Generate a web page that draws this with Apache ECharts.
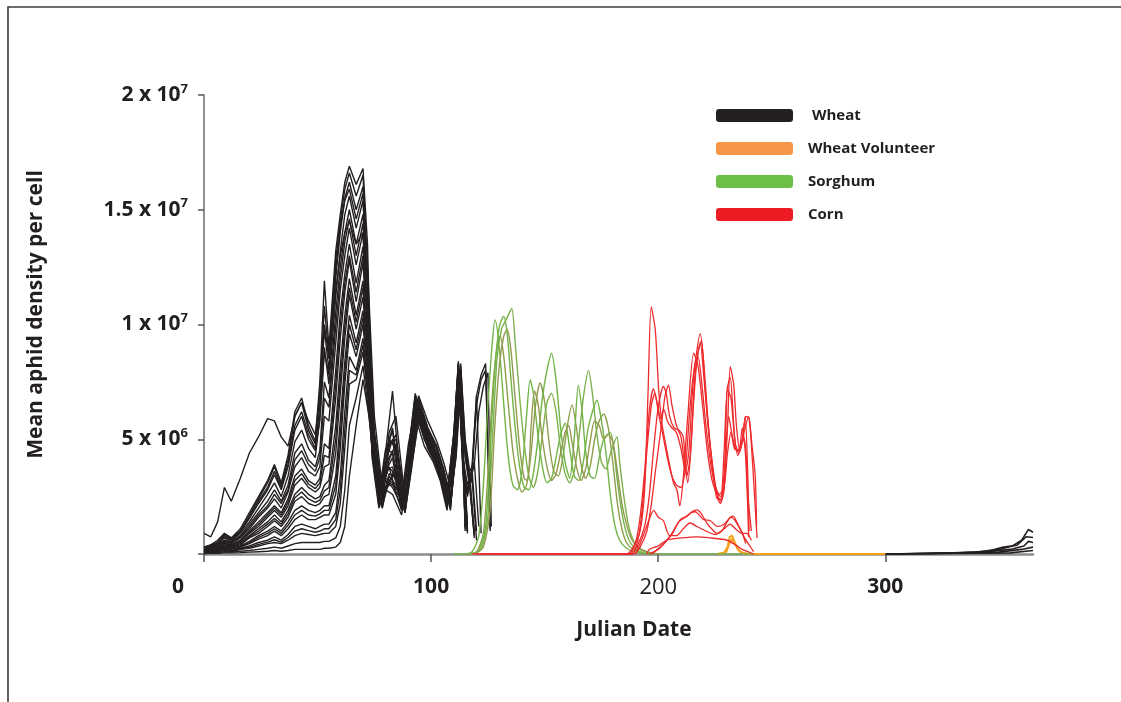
<!DOCTYPE html>
<html>
<head>
<meta charset="utf-8">
<script src="https://cdn.jsdelivr.net/npm/echarts@6/dist/echarts.min.js"></script>
<style>html,body{margin:0;padding:0;background:#fff}#c{width:1121px;height:702px}</style>
</head>
<body>
<div id="c"></div>
<script>
// ---- tick labels ----
const xTickValues = [0, 100, 200, 300];
const xTickLabels = ['0', '100', '200', '300'];
const yTickBase = ['', '5 x 10', '1 x 10', '1.5 x 10', '2 x 10'];
const yTickExp = ['', '6', '7', '7', '7'];

// ---- Wheat (values in millions of aphids per cell), two sampling grids of Julian days ----
const wheatDaysA = [0,3,6,9,12,16,20,24,28,31,34,37,40,43,46,49,51,53,55,58,60,62,64,67,70,72,74,77,80,83,87,90,93,97,101,104,107,110,112,114,116,118,120,122,124,126];
const wheatDaysB = [0,3,6,9,12,16,20,24,28,31,34,37,40,43,46,49,51,53,55,58,60,62,64,67,70,72,75,78.5,81.5,84.5,88.5,91.5,94.5,98.5,102.5,105.5,108.5,111,113,115,117,119,121,123,125,126.5];

const wheat00 = [0.9,0.75,1.4,2.9,2.3,3.3,4.4,5.1,5.9,5.8,5.1,4.7,6.0,6.6,5.8,5.2,
  7.0,10.0,8.5,11.5,13.0,14.0,14.5,13.5,14.0,10.0,
  5.0,2.2,4.5,7.1,2.5,4.0,6.8,5.5,4.6,3.8,2.4,
  5.2,8.3,3.5,1.0,null,null,null,null,null];
const wheat01 = [0.3,0.4,0.6,0.9,0.7,1.1,1.8,2.5,3.2,3.9,3.1,4.3,6.2,6.8,5.6,4.9,
  7.5,11.9,9.0,13.2,14.8,16.2,16.9,16.1,16.8,13.5,
  5.5,2.4,3.3,3.1,1.9,4.4,7.0,5.6,4.8,3.9,2.6,
  5.2,8.4,4.0,2.5,3.8,6.9,7.8,8.3,1.0];
const wheat02 = [0.3,0.4,0.5,0.85,0.7,1.0,1.7,2.4,3.1,3.8,3.0,4.1,6.0,6.6,5.4,4.8,
  7.0,10.8,8.6,12.8,14.5,15.9,16.6,15.6,16.5,12.5,
  6.0,2.9,3.8,2.7,2.2,4.8,6.2,5.0,4.0,3.0,2.4,
  5.6,8.0,1.1,null,null,null,null,null,null];
const wheat03 = [0.25,0.35,0.5,0.8,0.65,1.0,1.6,2.3,2.9,3.6,2.9,3.9,5.6,6.2,5.2,4.6,
  6.5,9.8,8.0,12.0,14.0,15.5,16.2,15.0,16.0,12.0,
  4.2,2.0,2.8,2.6,1.7,3.6,6.0,4.7,4.0,3.2,1.9,
  4.6,7.8,4.2,0.9,null,null,null,null,null];
const wheat04 = [0.2,0.3,0.45,0.7,0.55,0.9,1.4,2.0,2.6,3.1,2.5,3.4,4.9,5.4,4.6,4.2,
  6.0,9.0,7.4,11.2,13.2,14.8,15.6,14.2,15.4,11.5,
  5.2,2.6,3.0,3.9,2.0,5.1,6.9,5.8,4.9,4.0,2.9,
  5.4,7.9,4.5,3.0,0.8,null,null,null,null];
const wheat05 = [0.2,0.3,0.4,0.6,0.5,0.8,1.3,1.8,2.3,2.8,2.3,3.0,4.4,4.8,4.1,3.8,
  4.5,7.5,6.8,10.5,12.5,14.0,15.0,13.5,14.8,11.0,
  4.8,2.4,3.9,3.6,2.4,4.8,6.3,5.6,4.5,3.7,2.3,
  5.1,8.2,3.8,2.6,3.5,6.5,7.6,8.0,1.1];
const wheat06 = [0.15,0.25,0.35,0.55,0.45,0.7,1.1,1.6,2.0,2.4,2.0,2.7,3.8,4.2,3.6,3.4,
  3.8,6.0,5.8,9.2,11.5,13.0,14.2,12.6,14.0,10.5,
  4.4,2.0,3.4,3.0,1.8,3.9,5.8,4.6,3.8,3.1,2.1,
  4.4,7.6,1.2,null,null,null,null,null,null];
const wheat07 = [0.15,0.2,0.3,0.5,0.4,0.6,1.0,1.4,1.8,2.1,1.8,2.4,3.4,3.7,3.2,3.0,
  3.3,4.8,4.6,8.0,10.5,12.2,13.5,11.8,13.4,10.0,
  5.1,2.8,3.2,2.9,2.1,4.0,6.8,5.0,4.2,3.3,2.7,
  4.9,8.1,4.4,1.0,null,null,null,null,null];
const wheat08 = [0.1,0.2,0.3,0.45,0.35,0.55,0.9,1.2,1.6,1.9,1.6,2.1,3.0,3.3,2.9,2.7,
  2.9,3.8,3.9,6.8,9.4,11.4,12.8,11.0,12.7,9.5,
  4.5,2.4,3.5,3.3,2.0,4.1,6.4,5.1,4.3,3.3,2.0,
  4.7,7.7,4.6,3.2,0.7,null,null,null,null];
const wheat09 = [0.1,0.15,0.25,0.4,0.3,0.5,0.8,1.1,1.4,1.7,1.4,1.9,2.6,2.9,2.6,2.4,
  2.5,3.0,3.2,5.6,8.2,10.4,12.0,10.4,11.9,9.0,
  4.4,2.1,3.6,4.2,1.9,4.3,6.6,5.3,4.4,3.6,2.1,
  4.5,8.0,4.0,2.8,3.6,6.9,0.9,null,null];
const wheat10 = [0.1,0.15,0.2,0.35,0.3,0.4,0.7,0.9,1.2,1.45,1.2,1.6,2.3,2.5,2.2,2.1,
  2.2,2.5,2.6,4.4,7.0,9.4,11.3,9.8,11.2,8.6,
  4.9,2.6,4.1,4.8,2.4,4.5,6.8,5.5,4.6,3.6,2.5,
  4.2,7.4,1.0,null,null,null,null,null,null];
const wheat11 = [0.1,0.1,0.2,0.3,0.25,0.35,0.55,0.8,1.0,1.2,1.0,1.4,1.9,2.1,1.9,1.8,
  1.9,2.1,2.1,3.4,5.8,8.4,10.4,9.2,10.6,8.2,
  4.6,2.5,4.4,5.5,2.2,4.2,6.3,5.0,4.2,3.3,2.1,
  4.6,7.9,4.3,1.1,null,null,null,null,null];
const wheat12 = [0.05,0.1,0.15,0.25,0.2,0.3,0.45,0.65,0.8,1.0,0.8,1.1,1.5,1.7,1.5,1.5,
  1.6,1.7,1.7,2.6,4.6,7.4,9.6,8.6,10.0,7.8,
  4.2,2.0,5.0,4.6,1.8,3.8,6.0,4.8,4.1,3.2,1.9,
  4.9,8.2,4.8,3.4,1.0,null,null,null,null];
const wheat13 = [0.05,0.1,0.1,0.2,0.15,0.25,0.35,0.5,0.6,0.75,0.6,0.85,1.2,1.3,1.2,1.1,
  1.2,1.3,1.3,1.8,3.4,6.2,8.6,8.0,9.4,7.4,
  4.5,2.4,4.0,5.0,2.3,4.1,6.2,5.1,4.4,3.4,2.2,
  4.3,7.5,3.9,2.7,3.3,0.6,null,null,null];
const wheat14 = [0.05,0.05,0.1,0.15,0.1,0.2,0.25,0.35,0.45,0.5,0.45,0.6,0.8,0.9,0.85,0.8,
  0.85,0.9,0.9,1.2,2.2,4.6,7.4,7.6,8.8,7.0,
  4.6,2.3,5.3,6.0,2.4,4.3,6.5,5.3,4.6,3.6,2.3,
  4.7,8.0,1.3,null,null,null,null,null,null];
const wheat15 = [0.03,0.05,0.05,0.1,0.08,0.12,0.15,0.2,0.25,0.3,0.25,0.35,0.45,0.5,0.5,0.5,
  0.5,0.55,0.55,0.7,1.2,2.8,5.6,6.8,8.2,6.6,
  4.7,2.6,4.6,4.4,2.1,4.0,6.6,5.2,4.3,3.5,2.1,
  4.4,7.8,4.1,1.0,null,null,null,null,null];
const wheat16 = [0.02,0.03,0.03,0.05,0.05,0.06,0.08,0.1,0.12,0.15,0.12,0.15,0.2,0.2,0.2,0.2,
  0.2,0.25,0.25,0.3,0.5,1.2,3.4,5.6,7.6,6.4,
  4.5,2.5,4.8,5.0,2.2,4.5,6.7,5.5,4.7,3.7,2.4,
  5.0,8.3,5.0,3.6,4.0,1.2,null,null,null];
const wheat17 = [0.25,0.35,0.5,0.75,0.6,0.95,1.55,2.2,2.8,3.45,2.8,3.8,5.4,6.0,5.0,4.5,
  5.8,8.8,7.8,12.4,14.3,15.4,15.9,14.6,15.7,11.0,
  5.4,2.7,3.1,2.9,2.0,4.6,6.5,5.4,4.6,3.7,2.4,
  4.8,7.9,4.3,3.1,3.9,6.2,7.3,7.9,1.2];
const wheat18 = [0.2,0.25,0.4,0.6,0.5,0.75,1.2,1.7,2.1,2.6,2.2,2.8,4.1,4.5,3.9,3.6,
  4.2,6.8,6.4,9.9,12.0,13.6,14.6,13.0,14.4,10.8,
  4.9,2.2,3.6,3.8,2.1,4.5,6.9,5.4,4.5,3.8,2.5,
  5.3,8.3,4.7,1.3,null,null,null,null,null];
const wheat19 = [0.12,0.2,0.3,0.48,0.38,0.58,0.95,1.3,1.7,2.0,1.7,2.25,3.2,3.5,3.05,2.85,
  3.1,4.3,4.2,7.4,10.0,11.8,13.0,11.4,13.0,9.8,
  4.3,2.1,3.2,3.6,1.9,4.2,6.3,5.1,4.2,3.3,2.2,
  4.6,7.7,4.2,2.9,0.9,null,null,null,null];
const wheat20 = [0.1,0.15,0.22,0.38,0.3,0.45,0.75,1.0,1.3,1.55,1.3,1.75,2.45,2.7,2.4,2.25,
  2.35,2.75,2.9,5.0,7.6,9.9,11.6,10.1,11.6,8.8,
  4.7,2.4,3.9,4.5,2.0,4.4,6.5,5.3,4.4,3.5,2.2,
  4.7,8.1,4.2,3.0,3.7,1.0,null,null,null];
const wheat21 = [0.08,0.1,0.18,0.28,0.22,0.32,0.5,0.72,0.9,1.1,0.9,1.25,1.7,1.9,1.7,1.65,
  1.75,1.9,1.9,3.0,5.2,7.9,10.0,8.9,10.3,8.0,
  4.6,2.3,4.7,5.2,2.1,4.3,6.5,5.2,4.4,3.4,2.1,
  4.5,7.8,1.2,null,null,null,null,null,null];
const wheat22 = [0.05,0.07,0.1,0.18,0.12,0.22,0.3,0.42,0.52,0.62,0.52,0.72,1.0,1.1,1.02,0.95,
  1.0,1.1,1.1,1.5,2.8,5.4,8.0,7.8,9.1,7.2,
  4.5,2.3,4.4,5.4,2.3,4.2,6.4,5.2,4.5,3.5,2.2,
  4.5,7.9,4.4,1.0,null,null,null,null,null];

const wheatOnGridA = [wheat00, wheat01, wheat03, wheat05, wheat07, wheat09, wheat11, wheat13, wheat15, wheat18, wheat20, wheat22];
const wheatOnGridB = [wheat02, wheat04, wheat06, wheat08, wheat10, wheat12, wheat14, wheat16, wheat17, wheat19, wheat21];

// Wheat again at the end of the year (Julian day, value)
const wheatLate1 = [[300,0],[320,0.02],[340,0.08],[350,0.2],[356,0.35],[360,0.6],[363,1.07],[365,0.95]];
const wheatLate2 = [[300,0],[330,0.03],[345,0.12],[352,0.3],[358,0.38],[362,0.75],[365,0.72]];
const wheatLate3 = [[300,0],[340,0.05],[355,0.2],[361,0.35],[363,0.55],[365,0.5]];
const wheatLate4 = [[300,0],[350,0.08],[360,0.2],[365,0.3]];
const wheatLate5 = [[300,0],[355,0.05],[365,0.15]];

// ---- Wheat volunteer ----
const volunteer1 = [[226,0],[229,0.05],[230.5,0.3],[231.5,0.75],[232.5,0.8],[233.5,0.55],[235,0.2],[237,0.05],[240,0],[270,0],[300,0]];
const volunteer2 = [[227,0],[230,0.1],[231.5,0.5],[232.5,0.65],[234,0.4],[236,0.1],[239,0]];

// ---- Sorghum ----
const sorghum1 = [[110,0],[114,0],[118,0.1],[121,0.8],[123,3.0],[125,6.5],[127,9.3],[128.2,10.2],[130,9.0],[132,6.5],[134,4.2],[136,3.0],[138,2.8],[140,3.6],[142,6.0],[143.6,7.6],[145,7.0],[147,5.2],[149,3.8],[151,3.1],[153,3.3],[155,4.2],[157,5.2],[159,5.7],[161,4.6],[163,3.4],[165,3.2],[167,4.0],[169,5.4],[171,6.2],[173,6.7],[175,5.8],[177,4.4],[179,2.5],[181,1.2],[183,0.6],[186,0.25],[190,0.08],[196,0]];
const sorghum2 = [[116,0],[120,0.1],[123,0.9],[125,3.5],[127,7.0],[129,9.0],[130.4,9.5],[132,8.6],[134,6.5],[136,4.5],[138,3.3],[140,2.7],[142,3.0],[144,4.4],[146,6.5],[148,7.45],[150,6.6],[152,4.8],[154,3.6],[156,3.4],[158,4.2],[160,5.6],[162,6.5],[164,5.5],[166,3.9],[168,3.3],[170,3.8],[172,5.0],[174,5.8],[176,6.1],[178,5.5],[180,4.0],[182,2.2],[184,1.1],[186,0.5],[189,0.2],[193,0.05],[198,0]];
const sorghum3 = [[117,0],[121,0.15],[124,1.2],[126,4.5],[128,8.0],[130,9.9],[131.9,10.35],[133.5,9.6],[135,7.8],[137,5.5],[139,3.8],[141,2.9],[143,2.8],[145,3.5],[147,5.0],[149,6.8],[151,8.0],[153,8.75],[155,7.6],[157,5.5],[159,4.0],[161,3.3],[163,5.0],[164.8,7.36],[166.5,6.2],[168,4.5],[170,3.4],[172,3.3],[174,4.2],[176,5.0],[178.9,5.3],[180.5,4.5],[182,3.2],[184,1.8],[186,0.9],[188,0.45],[191,0.15],[196,0],[220,0],[242,0]];
const sorghum4 = [[118,0],[122,0.2],[125,1.6],[127,5.0],[129,8.5],[131,9.8],[133,10.2],[135.5,10.7],[137,9.2],[139,6.8],[141,4.8],[143,3.4],[145,2.9],[147,3.6],[149,5.2],[151,6.6],[153,7.0],[155,6.2],[157,4.6],[159,3.5],[161,3.1],[163,3.6],[165,5.0],[167,6.8],[169.3,8.0],[171,7.0],[173,5.2],[175,4.0],[177,3.7],[179,4.4],[181.8,5.1],[183,4.0],[185,2.4],[187,1.2],[189,0.6],[192,0.2],[197,0]];
const sorghum5 = [[119,0],[123,0.3],[126,2.0],[128,5.5],[130,8.2],[132,9.5],[133.5,9.8],[135,9.0],[137,6.8],[139,4.6],[141,3.3],[142.5,3.2],[144,5.5],[145.5,7.1],[147,6.6],[149,5.0],[151,3.8],[153,3.2],[155,3.5],[157,4.4],[159,5.3],[160.5,5.6],[162,4.9],[164,3.8],[166,3.2],[168,3.7],[170,4.9],[172,5.8],[174,5.6],[176,5.0],[178,5.2],[180,4.9],[182,3.6],[184,2.2],[186,1.3],[188,0.7],[191,0.3],[195,0.1],[200,0]];

// ---- Corn ----
const corn1 = [[118,0],[186,0],[189,0.3],[192,1.0],[194,2.8],[195.5,7.0],[196.9,10.78],[198.7,9.76],[200.2,7.15],[201.6,5.7],[203.8,4.5],[206.7,3.1],[208.2,2.8],[209.5,2.1],[211,3.3],[213,6.0],[215.6,8.75],[217.5,8.2],[219.5,6.5],[221.5,4.6],[223.5,3.3],[225.5,2.7],[227.5,2.5],[229,4.5],[230.5,7.15],[232,6.8],[233.5,5.2],[235,4.3],[237,4.9],[238.5,6.0],[240,5.9],[241.5,4.0],[243.5,0.7]];
const corn2 = [[120,0],[187,0],[190,0.5],[192,1.6],[194,3.6],[196,6.2],[197.9,7.2],[199.5,6.6],[201,5.9],[202.5,6.3],[204,5.8],[206,5.5],[208,5.3],[210,4.6],[212,3.6],[213.5,4.5],[215,7.0],[216.5,8.5],[218.5,9.6],[220,8.4],[222,5.7],[224.4,3.4],[226,2.6],[227.5,2.3],[229,3.0],[230.5,5.5],[231.7,8.16],[233.2,7.4],[234.5,5.5],[236,4.5],[238,5.4],[239.8,6.0],[241.3,4.7],[242.7,3.4],[243.3,1.2]];
const corn3 = [[122,0],[188,0],[191,0.4],[194,1.2],[196,2.5],[198,4.6],[200,6.4],[202.3,7.3],[203.5,7.0],[205,6.0],[207,5.5],[209,5.4],[211,5.1],[212.6,3.4],[214,4.2],[215.5,6.5],[217,8.4],[218.5,9.2],[220,7.8],[222,5.5],[224,3.8],[226,2.5],[227.3,2.2],[229,2.8],[230.3,7.15],[231.7,7.7],[233,6.0],[233.9,4.8],[235.5,4.4],[237,5.0],[238.3,6.0],[239.5,3.2],[240,1.0]];
const corn4 = [[124,0],[189,0],[192,0.3],[195,1.0],[197,2.2],[199,3.8],[201,5.3],[203,6.9],[204.5,7.36],[206,6.5],[208,5.6],[210,5.1],[211.5,4.0],[213,3.1],[214.5,4.8],[216,7.6],[217.5,8.8],[219,9.3],[220.5,7.4],[222.5,5.0],[224.5,3.2],[226,2.4],[227.5,2.4],[229,3.5],[231,6.0],[232.5,5.2],[234,4.6],[235.5,4.5],[237,5.5],[238.5,4.2],[239.8,0.75]];
const corn5 = [[126,0],[188,0],[191,0.6],[193,2.0],[195,4.5],[197,6.5],[198.5,7.0],[200,6.2],[202,5.2],[204,4.2],[206,3.4],[208,3.0],[210,2.9],[212,3.8],[214,6.4],[216,8.2],[217.5,8.6],[219,7.6],[221,5.6],[223,4.0],[225,3.0],[227,2.6],[229,2.9],[230.5,4.4],[232,5.3],[233.5,4.6],[235,4.5],[236.5,4.8],[238,5.0],[239.5,2.5],[241,1.0]];
const corn6 = [[190,0],[193,0.7],[196,1.5],[198,1.9],[200,1.6],[202.3,1.45],[205,0.8],[208,0.8],[211,1.1],[214,1.35],[217,1.2],[221,1.0],[225,0.85],[229,1.1],[231.7,1.3],[234,1.1],[237,0.9],[239,0.9],[241,0.6]];
const corn7 = [[196,0],[200,0.2],[203,0.5],[206,0.85],[209.7,1.5],[212.6,1.65],[215,1.85],[217,1.92],[219,1.75],[221.4,1.35],[223.5,1.1],[225.8,0.9],[228,1.0],[230,1.35],[232,1.6],[233.5,1.5],[236,1.1],[238,0.7],[240,0.4],[242,0.1]];
const corn8 = [[197,0],[202,0.4],[206,0.9],[209,1.4],[212,1.6],[214.5,1.8],[216.3,1.84],[218,1.7],[220,1.5],[223,1.45],[226,1.2],[229,1.3],[231.7,1.6],[233,1.65],[235,1.3],[237,0.9],[238.5,0.45]];
const corn9 = [[195,0],[196,0.2],[200,0.35],[203.8,0.61],[210,0.7],[217,0.75],[223,0.7],[230,0.61],[234,0.4],[237,0.2],[242,0]];

// ---- colours ----
const colWheat = '#231f20', colVol = '#f79646', colVolLine = '#f5a11c', colSorg = '#6cbf47', colCorn = '#ed1c24';

const FONT = "'Open Sans', 'DejaVu Sans', sans-serif";
const series = [];
function addWheat(days, vals) {
  series.push({name:'Wheat', type:'line', symbol:'none', silent:true,
    data: days.map((d, i) => [d, vals[i]]).filter(p => p[1] !== null),
    lineStyle:{color:colWheat, width:1.4}, itemStyle:{color:colWheat}});
}
wheatOnGridA.forEach(v => addWheat(wheatDaysA, v));
wheatOnGridB.forEach(v => addWheat(wheatDaysB, v));
[wheatLate1,wheatLate2,wheatLate3,wheatLate4,wheatLate5].forEach(d => {
  series.push({name:'Wheat', type:'line', symbol:'none', silent:true, data:d,
    lineStyle:{color:colWheat, width:1.6}, itemStyle:{color:colWheat}});
});
[volunteer1, volunteer2].forEach(d => {
  series.push({name:'Wheat Volunteer', type:'line', symbol:'none', silent:true, data:d,
    lineStyle:{color:colVolLine, width:2}, itemStyle:{color:colVol}});
});
[[sorghum1,'#72b546'],[sorghum2,'#8e9d4d'],[sorghum3,'#70b447'],[sorghum4,'#7bb04a'],[sorghum5,'#93994f']].forEach(([d,c]) => {
  series.push({name:'Sorghum', type:'line', symbol:'none', silent:true, smooth:0.25, data:d,
    lineStyle:{color:c, width:1.4}, itemStyle:{color:colSorg}});
});
[corn1,corn2,corn3,corn4,corn5,corn6,corn7,corn8,corn9].forEach(d => {
  series.push({name:'Corn', type:'line', symbol:'none', silent:true, smooth:0.25, data:d,
    lineStyle:{color:'#ee2a2c', width:1.3}, itemStyle:{color:colCorn}});
});

const chart = echarts.init(document.getElementById('c'), null, {renderer:'canvas'});
chart.setOption({
  animation:false,
  backgroundColor:'#ffffff',
  graphic:[{type:'rect', silent:true, shape:{x:8, y:7, width:1400, height:1000},
    style:{fill:'none', stroke:'#3c3c3c', lineWidth:1.6}}],
  grid:{left:204, right:88, top:95, bottom:148, containLabel:false, outerBoundsMode:'none'},
  legend:{
    orient:'vertical', left:711, top:103, icon:'roundRect', itemWidth:77, itemHeight:13, itemGap:18,
    selectedMode:false,
    textStyle:{fontFamily:FONT, fontWeight:'bold', fontSize:15, color:'#231f20', padding:[0,0,0,10]},
    data:[
      {name:'Wheat', itemStyle:{color:colWheat, borderWidth:0}, textStyle:{padding:[0,0,0,14]}},
      {name:'Wheat Volunteer', itemStyle:{color:colVol, borderWidth:0}},
      {name:'Sorghum', itemStyle:{color:colSorg, borderWidth:0}},
      {name:'Corn', itemStyle:{color:colCorn, borderWidth:0}}
    ]
  },
  xAxis:{
    type:'value', min:0, max:365, interval:100,
    name:'Julian Date', nameLocation:'middle', nameGap:66,
    nameTextStyle:{fontFamily:FONT, fontWeight:'bold', fontSize:21, color:'#231f20', padding:[0,0,0,31]},
    axisLine:{show:true, onZero:false, lineStyle:{color:'#8c8c8c', width:2.5}},
    axisTick:{show:true, length:8, lineStyle:{color:'#555', width:1.5}, customValues:xTickValues},
    splitLine:{show:false},
    axisLabel:{
      customValues:xTickValues, margin:23,
      formatter:(v) => {
        const i = xTickValues.indexOf(v);
        if (i < 0) return '';
        if (v === 0) return '{z|' + xTickLabels[i] + '}';
        if (v === 200) return '{n|' + xTickLabels[i] + '}';
        return '{b|' + xTickLabels[i] + '}';
      },
      rich:{
        b:{fontFamily:FONT, fontWeight:'bold', fontSize:21, color:'#231f20'},
        n:{fontFamily:FONT, fontWeight:'normal', fontSize:22, color:'#231f20'},
        z:{fontFamily:FONT, fontWeight:'bold', fontSize:21, color:'#231f20', padding:[0,52,0,0]}
      }
    }
  },
  yAxis:{
    type:'value', min:0, max:20, interval:5,
    name:'Mean aphid density per cell', nameLocation:'middle', nameGap:157, nameRotate:90,
    nameTextStyle:{fontFamily:FONT, fontWeight:'bold', fontSize:21, color:'#231f20', padding:[0,0,0,20]},
    axisLine:{show:true, lineStyle:{color:'#6a6a6a', width:1.5}},
    axisTick:{show:true, length:6, lineStyle:{color:'#555', width:1.5}},
    splitLine:{show:false},
    axisLabel:{
      margin:16,
      formatter:(v) => {
        const i = Math.round(v / 5);
        if (i === 0) return '';
        return '{b|' + yTickBase[i] + '}{s|' + yTickExp[i] + '}';
      },
      rich:{
        b:{fontFamily:FONT, fontWeight:'bold', fontSize:21, color:'#231f20', lineHeight:25},
        s:{fontFamily:FONT, fontWeight:'bold', fontSize:13, color:'#231f20', lineHeight:13, verticalAlign:'top'}
      }
    }
  },
  series:series
});
</script>
</body>
</html>
